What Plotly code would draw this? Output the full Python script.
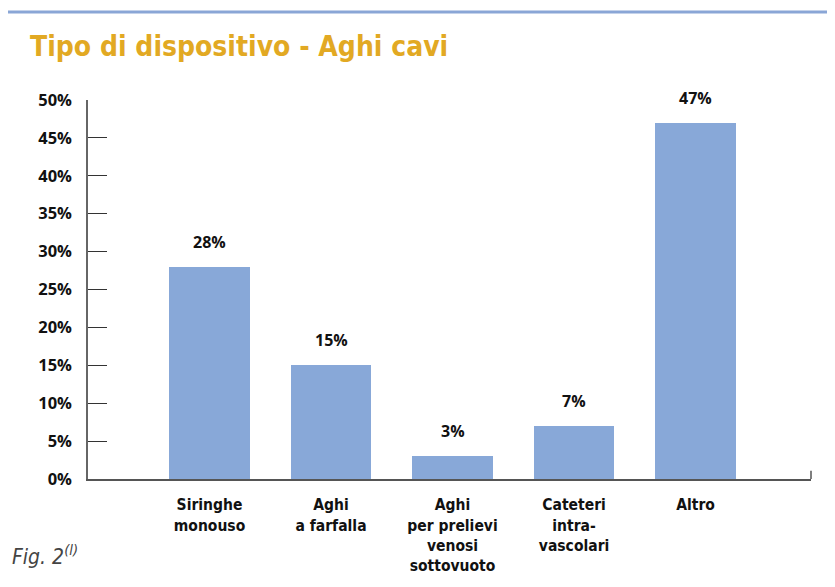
import plotly.graph_objects as go

categories = ["Siringhe<br>monouso", "Aghi<br>a farfalla", "Aghi<br>per prelievi<br>venosi<br>sottovuoto",
              "Cateteri<br>intra-<br>vascolari", "Altro"]
values = [28, 15, 3, 7, 47]
labels = ["28%", "15%", "3%", "7%", "47%"]
y_ticks = [0, 5, 10, 15, 20, 25, 30, 35, 40, 45, 50]
y_ticktext = [f"{v}%" for v in y_ticks]

x_idx = list(range(len(categories)))

COND = "DejaVu Sans Condensed, Liberation Sans Narrow, sans-serif"
SANS = "Open Sans, Noto Sans, sans-serif"

fig = go.Figure()
fig.add_trace(go.Bar(
    x=x_idx, y=values, width=0.66,
    marker=dict(color="#88a8d8", line=dict(width=0)),
))

value_annotations = [
    dict(x=xi, y=v, text=t, xref="x", yref="y", showarrow=False,
         yanchor="bottom", yshift=12,
         font=dict(family=SANS, size=16, color="#111111", weight="bold"))
    for xi, v, t in zip(x_idx, values, labels)
]

fig.update_layout(
    width=827, height=579,
    margin=dict(l=80, r=24, t=92, b=108),
    paper_bgcolor="white", plot_bgcolor="white",
    showlegend=False,
    bargap=0,
    xaxis=dict(
        range=[-1, 4.95], tickvals=x_idx, ticktext=categories,
        showline=True, linecolor="#555555", linewidth=1.5,
        ticks="", showgrid=False, zeroline=False, automargin=False,
        tickfont=dict(family=COND, size=15.5, color="#111111", weight="bold"),
        ticklabelstandoff=11,
    ),
    yaxis=dict(
        range=[0, 50], tickvals=y_ticks, ticktext=y_ticktext,
        showline=True, linecolor="#666666", linewidth=1.5,
        ticks="inside", ticklen=19, tickcolor="#333333", tickwidth=1,
        showgrid=False, zeroline=False, automargin=False,
        tickfont=dict(family=SANS, size=16.5, color="#111111", weight="bold"),
        ticklabelstandoff=11,
    ),
    shapes=[
        dict(type="line", xref="paper", yref="paper", x0=-0.2, x1=1.2, y0=1.232, y1=1.232,
             line=dict(color="#8aa6d6", width=3)),
        dict(type="line", xref="paper", yref="y", x0=1, x1=1, y0=0, y1=1.1,
             line=dict(color="#555555", width=1.5)),
    ],
    annotations=value_annotations + [
        dict(text="Tipo di dispositivo - Aghi cavi", xref="paper", yref="paper",
             x=-0.083, y=1.14, xanchor="left", yanchor="middle", showarrow=False,
             font=dict(family=COND, size=28, color="#e2a923", weight="bold")),
        dict(text="<i>Fig. 2<sup>(l)</sup></i>", xref="paper", yref="paper",
             x=-0.108, y=-0.2, xanchor="left", yanchor="middle", showarrow=False,
             font=dict(family=COND, size=21, color="#444444")),
    ],
)

fig.write_html("out.html")
